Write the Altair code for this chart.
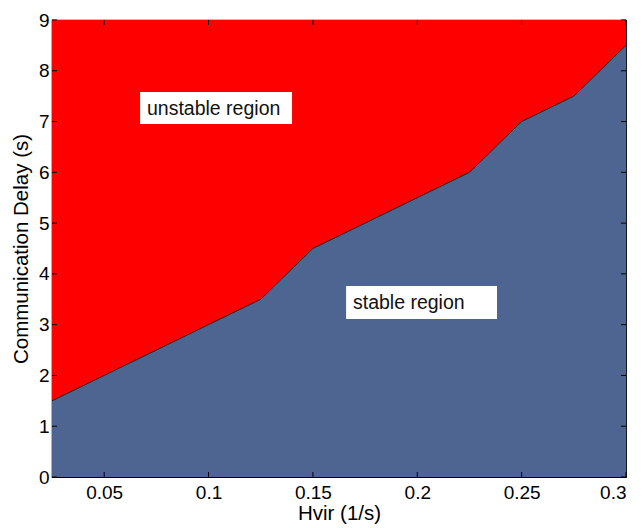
import altair as alt
import pandas as pd

# Stability boundary: maximum tolerable communication delay per Hvir value
hvir = [0.025, 0.05, 0.075, 0.1, 0.125, 0.15, 0.175, 0.2, 0.225, 0.25, 0.275, 0.3]
delay = [1.5, 2.0, 2.5, 3.0, 3.5, 4.5, 5.0, 5.5, 6.0, 7.0, 7.5, 8.5]

# Region labels (text, box corners in data units, text anchor)
label_text = ["unstable region", "stable region"]
box_x0 = [0.0672, 0.1659]
box_x1 = [0.1400, 0.2382]
box_y0 = [6.95, 3.11]
box_y1 = [7.58, 3.76]
text_x = [0.0705, 0.1692]
text_y = [7.25, 3.42]

x_ticks = [0.05, 0.1, 0.15, 0.2, 0.25, 0.3]
y_ticks = list(range(0, 10))

W, H = 574, 457
FONT = "Liberation Sans"

df = pd.DataFrame({"hvir": hvir, "delay": delay, "top": [9] * len(hvir), "zero": [0] * len(hvir)})
labels = pd.DataFrame({"t": label_text, "x0": box_x0, "x1": box_x1, "y0": box_y0, "y1": box_y1,
                       "tx": text_x, "ty": text_y})

xs = alt.Scale(domain=[0.025, 0.3], nice=False, zero=False)
ys = alt.Scale(domain=[0, 9], nice=False)

x_axis = alt.Axis(title="Hvir (1/s)", values=x_ticks, format="~g", ticks=False, grid=False,
                  labelFontSize=19, titleFontSize=20.5, labelFont=FONT, titleFont=FONT,
                  labelColor="black", titleColor="black", labelPadding=6, titlePadding=1,
                  domain=False, labelFontWeight="normal", titleFontWeight="normal")
y_axis = alt.Axis(title="Communication Delay (s)", values=y_ticks, ticks=False, grid=False,
                  labelFontSize=19, titleFontSize=20.5, labelFont=FONT, titleFont=FONT,
                  labelColor="black", titleColor="black", labelPadding=3, titlePadding=7,
                  domain=False, titleFontWeight="normal")

base = alt.Chart(df)

unstable = base.mark_area(color="#FF0000", opacity=1).encode(
    x=alt.X("hvir:Q", scale=xs, axis=x_axis),
    y=alt.Y("delay:Q", scale=ys, axis=y_axis),
    y2="top:Q",
)
stable = base.mark_area(color="#4E6591", opacity=1).encode(
    x=alt.X("hvir:Q", scale=xs),
    y=alt.Y("delay:Q", scale=ys),
    y2="zero:Q",
)
boundary = base.mark_line(color="#1a1a1a", strokeWidth=1).encode(
    x=alt.X("hvir:Q", scale=xs),
    y=alt.Y("delay:Q", scale=ys),
)

boxes = alt.Chart(labels).mark_rect(fill="white").encode(
    x=alt.X("x0:Q", scale=xs), x2="x1:Q",
    y=alt.Y("y0:Q", scale=ys), y2="y1:Q",
)
texts = alt.Chart(labels).mark_text(align="left", baseline="middle", fontSize=19.5, font=FONT,
                                    color="#111111").encode(
    x=alt.X("tx:Q", scale=xs), y=alt.Y("ty:Q", scale=ys), text="t:N",
)

# Inward tick marks on all four sides
xt = pd.DataFrame({"v": x_ticks})
yt = pd.DataFrame({"v": y_ticks})
tick_bottom = alt.Chart(xt).mark_rule(color="black", strokeWidth=1).encode(
    x=alt.X("v:Q", scale=xs), y=alt.value(H), y2=alt.value(H - 5))
tick_top = alt.Chart(xt).mark_rule(color="black", strokeWidth=1).encode(
    x=alt.X("v:Q", scale=xs), y=alt.value(0), y2=alt.value(5))
tick_left = alt.Chart(yt).mark_rule(color="black", strokeWidth=1).encode(
    y=alt.Y("v:Q", scale=ys), x=alt.value(0), x2=alt.value(5))
tick_right = alt.Chart(yt).mark_rule(color="black", strokeWidth=1).encode(
    y=alt.Y("v:Q", scale=ys), x=alt.value(W), x2=alt.value(W - 5))

chart = alt.layer(
    unstable, stable, boundary, boxes, texts,
    tick_bottom, tick_top, tick_left, tick_right,
).properties(
    width=W, height=H,
    padding={"left": 52, "top": 20, "right": 17, "bottom": 51},
    autosize=alt.AutoSizeParams(type="none"),
    background="white",
).configure_view(
    stroke="black", strokeWidth=1.2,
)

chart.save("out.html", embed_options={"renderer": "svg", "actions": False})
